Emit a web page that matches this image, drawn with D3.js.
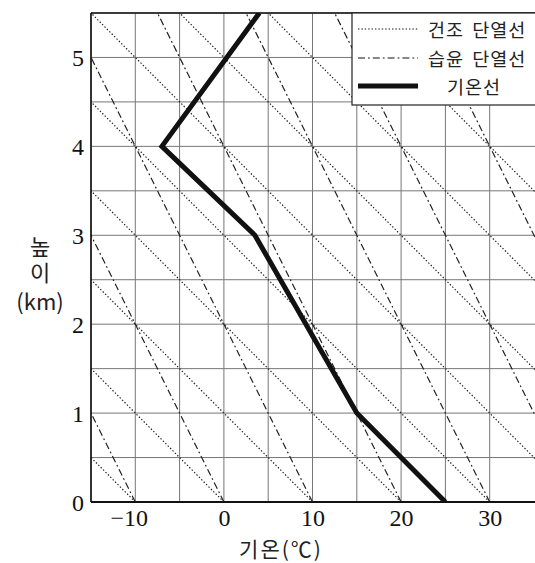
<!DOCTYPE html>
<html>
<head>
<meta charset="utf-8">
<script src="https://cdn.jsdelivr.net/npm/d3@7"></script>
<style>
  body { margin: 0; background: #fff; }
  svg { display: block; }
</style>
</head>
<body>
<svg id="chart"></svg>
<script>
// 기온선 (temperature profile)
const altitude = [0, 1, 3, 4, 5.5];
const temperature = [25, 15, 3.5, -7, 4];

// adiabats: surface temperatures and lapse rates (°C / km)
const dryStart = [-10, 0, 10, 20, 30, 40, 50, 60, 70, 80, 90];
const moistStart = [-10, 0, 10, 20, 30, 40, 50, 60, 70];
const dryLapse = 10;
const moistLapse = 5;

const xTicks = [-10, 0, 10, 20, 30];
const yTicks = [0, 1, 2, 3, 4, 5];
const xGrid = [-15, -10, -5, 0, 5, 10, 15, 20, 25, 30];
const yGrid = [0, 0.5, 1, 1.5, 2, 2.5, 3, 3.5, 4, 4.5, 5, 5.5];

const legendLabels = ['건조 단열선', '습윤 단열선', '기온선'];

const serif = '"Liberation Serif", "Times New Roman", serif';
const kor = '"Noto Sans CJK KR", "Noto Sans", sans-serif';

class AdiabatChart {
    constructor(_config) {
        this.config = {
            parentElement: _config.parentElement,
            width: 535,
            height: 563,
            margin: { top: 13, right: 1, bottom: 61, left: 91 }
        };
        this.initVis();
    }

    initVis() {
        let vis = this;
        const m = vis.config.margin;
        vis.innerW = vis.config.width - m.left - m.right;
        vis.innerH = vis.config.height - m.top - m.bottom;

        vis.svg = d3.select(vis.config.parentElement)
            .attr('width', vis.config.width)
            .attr('height', vis.config.height);

        vis.xScale = d3.scaleLinear().domain([-15, 35]).range([0, vis.innerW]);
        vis.yScale = d3.scaleLinear().domain([0, 5.5]).range([vis.innerH, 0]);

        vis.chart = vis.svg.append('g')
            .attr('transform', `translate(${m.left},${m.top})`);

        vis.chart.append('clipPath').attr('id', 'plot-clip')
            .append('rect')
            .attr('width', vis.innerW + 1)
            .attr('height', vis.innerH);

        vis.renderVis();
    }

    renderVis() {
        let vis = this;
        const x = vis.xScale, y = vis.yScale;

        // grid
        vis.chart.append('g').selectAll('line.vg')
            .data(xGrid).join('line')
            .attr('x1', d => x(d)).attr('x2', d => x(d))
            .attr('y1', 0).attr('y2', vis.innerH)
            .attr('stroke', '#777').attr('stroke-width', 1);

        vis.chart.append('g').selectAll('line.hg')
            .data(yGrid).join('line')
            .attr('x1', 0).attr('x2', vis.innerW + 1)
            .attr('y1', d => y(d)).attr('y2', d => y(d))
            .attr('stroke', '#777').attr('stroke-width', 1);

        const plot = vis.chart.append('g').attr('clip-path', 'url(#plot-clip)');

        // dry adiabats
        plot.selectAll('line.dry')
            .data(dryStart).join('line')
            .attr('x1', d => x(d)).attr('y1', y(0))
            .attr('x2', d => x(d - dryLapse * 5.5)).attr('y2', y(5.5))
            .attr('stroke', '#222').attr('stroke-width', 1.2)
            .attr('stroke-dasharray', '1.4,2');

        // moist adiabats
        plot.selectAll('line.moist')
            .data(moistStart).join('line')
            .attr('x1', d => x(d)).attr('y1', y(0))
            .attr('x2', d => x(d - moistLapse * 5.5)).attr('y2', y(5.5))
            .attr('stroke', '#222').attr('stroke-width', 1.2)
            .attr('stroke-dasharray', '7,3,1.8,3');

        // temperature profile
        const pts = altitude.map((a, i) => [temperature[i], a]);
        plot.append('path')
            .datum(pts)
            .attr('fill', 'none')
            .attr('stroke', '#111')
            .attr('stroke-width', 5)
            .attr('stroke-linejoin', 'miter')
            .attr('d', d3.line().x(d => x(d[0])).y(d => y(d[1])));

        // frame
        vis.chart.append('line')
            .attr('x1', 0).attr('x2', 0).attr('y1', 0).attr('y2', vis.innerH)
            .attr('stroke', '#111').attr('stroke-width', 1.6);
        vis.chart.append('line')
            .attr('x1', 0).attr('x2', vis.innerW + 1).attr('y1', 0).attr('y2', 0)
            .attr('stroke', '#111').attr('stroke-width', 1.6);
        vis.chart.append('line')
            .attr('x1', 0).attr('x2', vis.innerW + 1).attr('y1', vis.innerH).attr('y2', vis.innerH)
            .attr('stroke', '#111').attr('stroke-width', 1.8);

        // axes
        const xAxis = d3.axisBottom(x).tickValues(xTicks).tickSize(0).tickPadding(6)
            .tickFormat(d => d < 0 ? '\u2212' + Math.abs(d) : d);
        const xg = vis.chart.append('g')
            .attr('transform', `translate(0,${vis.innerH})`)
            .call(xAxis);
        xg.select('.domain').remove();
        xg.selectAll('text')
            .attr('font-family', serif).attr('font-size', 24).attr('fill', '#111')
            .attr('dy', '0.74em')
            .attr('dx', d => d < 0 ? -6.5 : 0);

        const yAxis = d3.axisLeft(y).tickValues(yTicks).tickSize(0).tickPadding(7)
            .tickFormat(d => d);
        const yg = vis.chart.append('g').call(yAxis);
        yg.select('.domain').remove();
        yg.selectAll('text')
            .attr('font-family', serif).attr('font-size', 24).attr('fill', '#111')
            .attr('dy', '0.35em');

        // axis titles
        vis.svg.append('text')
            .attr('x', 281).attr('y', 556.5)
            .attr('text-anchor', 'middle')
            .attr('font-family', kor).attr('font-size', 21).attr('fill', '#222')
            .attr('letter-spacing', 2)
            .text('기온(℃)');

        vis.svg.append('text')
            .attr('x', 40).attr('y', 236)
            .attr('writing-mode', 'tb')
            .style('text-orientation', 'upright')
            .attr('font-family', kor).attr('font-size', 22).attr('fill', '#222')
            .attr('letter-spacing', 4)
            .text('높이');

        vis.svg.append('text')
            .attr('x', 40).attr('y', 310)
            .attr('text-anchor', 'middle')
            .attr('font-family', kor).attr('font-size', 22).attr('fill', '#222')
            .text('(km)');

        // legend
        const lg = vis.svg.append('g');
        lg.append('rect')
            .attr('x', 352).attr('y', 13).attr('width', 190).attr('height', 92)
            .attr('fill', '#fff').attr('stroke', '#222').attr('stroke-width', 1.2);

        const rowsY = [29, 58, 86];
        const dashes = ['1.4,2', '7,3,1.8,3', null];
        const widths = [1.2, 1.2, 5];
        legendLabels.forEach((label, i) => {
            lg.append('line')
                .attr('x1', 358).attr('x2', 418)
                .attr('y1', rowsY[i]).attr('y2', rowsY[i])
                .attr('stroke', '#111').attr('stroke-width', widths[i])
                .attr('stroke-dasharray', dashes[i]);
            lg.append('text')
                .attr('x', i === 2 ? 447 : 428).attr('y', rowsY[i])
                .attr('dominant-baseline', 'central')
                .attr('font-family', kor).attr('font-size', 18.5).attr('fill', '#222')
                .attr('letter-spacing', 1)
                .attr('word-spacing', 3)
                .text(label);
        });
    }
}

new AdiabatChart({ parentElement: '#chart' });
</script>
</body>
</html>
